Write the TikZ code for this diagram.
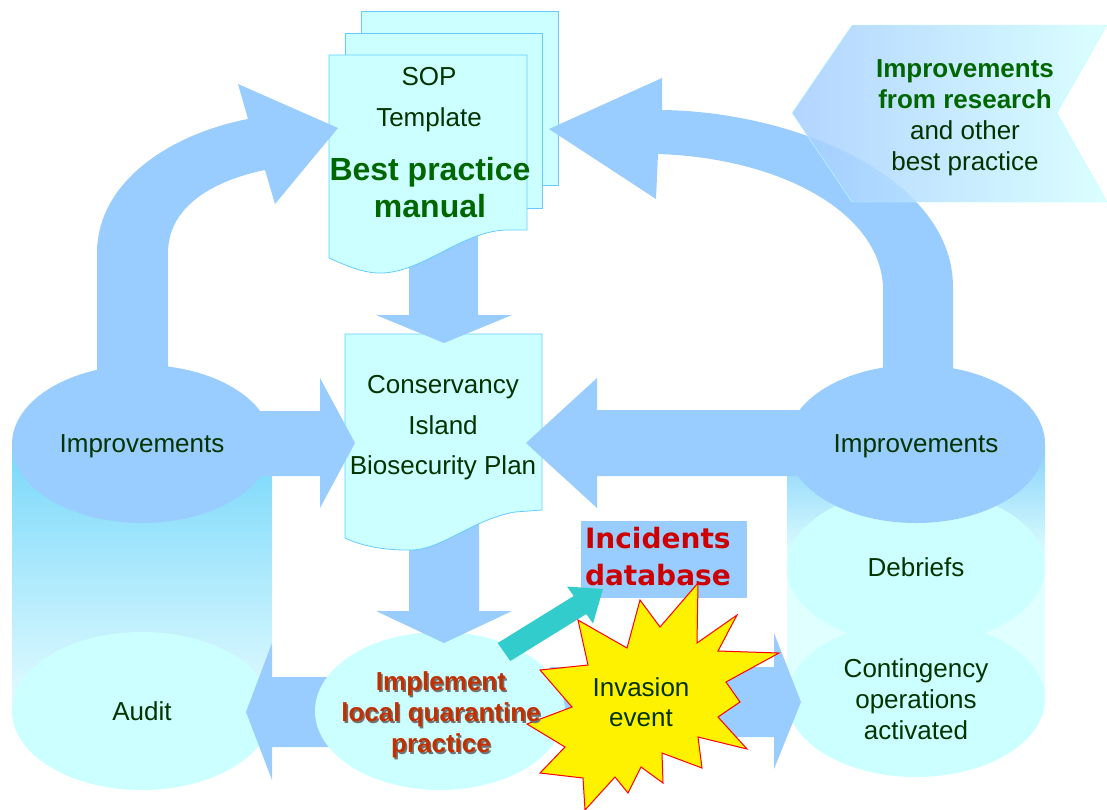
\documentclass[tikz,border=0pt]{standalone}
\usepackage{fontspec}
\setmainfont{Liberation Sans}
\newfontfamily\incfont{DejaVu Sans}
\usetikzlibrary{shapes.geometric}

\definecolor{arrowblue}{RGB}{153,204,255}
\definecolor{paleblue}{RGB}{204,255,255}
\definecolor{docline}{RGB}{102,204,255}
\definecolor{darkgreen}{RGB}{0,51,0}
\definecolor{boldgreen}{RGB}{0,102,0}
\definecolor{quarred}{RGB}{192,48,0}
\definecolor{incred}{RGB}{204,0,0}
\definecolor{tealarrow}{RGB}{51,204,204}

\tikzset{
  disc/.style={ellipse,inner sep=0pt,minimum width=260pt,minimum height=158pt},
  doc/.style={fill=paleblue,draw=docline,line width=0.8pt},
  txt/.style={text=darkgreen,align=center,inner sep=0pt,font=\fontsize{26}{31}\selectfont},
  quartxt/.style={text=quarred,align=center,inner sep=0pt,font=\bfseries\fontsize{26}{31}\selectfont},
  inctxt/.style={text=incred,align=left,inner sep=0pt,text width=158pt,font=\incfont\bfseries\fontsize{28}{37}\selectfont}
}

\begin{document}
\begin{tikzpicture}[x=1pt,y=-1pt]
    \useasboundingbox (0,0) rectangle (1107,809);
    %% left cylinder
    \shade[top color={rgb,255:red,120;green,215;blue,250},bottom color={rgb,255:red,228;green,252;blue,255}] (12,444) rectangle (272,711);
    \node[disc,fill=paleblue,txt] (audit) at (142,711) {Audit};
    \node[disc,fill=arrowblue,txt,text depth=0pt] (impleft) at (142,444) {Improvements};
    %% right cylinder
    \shade[top color={rgb,255:red,135;green,210;blue,250},bottom color={rgb,255:red,224;green,255;blue,255}] (787,445) rectangle (1045,560);
    \fill[paleblue!60!white] (787,560) rectangle (1045,700);
    \node[disc,minimum width=258pt,minimum height=156pt,fill=paleblue,txt] (conting) at (916,699) {Contingency\\operations\\activated};
    \node[disc,minimum width=258pt,minimum height=156pt,fill=paleblue,txt] (debriefs) at (916,567) {Debriefs};
    \node[disc,minimum width=258pt,fill=arrowblue,txt,text depth=0pt] (impright) at (916,444) {Improvements};
    %% arrows out of the quarantine ellipse
    \fill[arrowblue] (330,677) -- (272,677) -- (272,643) -- (246,712) -- (272,780) -- (272,747) -- (330,747) -- cycle;
    \fill[arrowblue] (550,667) -- (774,667) -- (774,633) -- (801,702) -- (774,769) -- (774,737) -- (550,737) -- cycle;
    \node[disc,minimum width=250pt,fill=paleblue] (implement) at (440,711) {};
    %% plan and manual with the arrows down
    \fill[arrowblue] (409,520) -- (479,520) -- (479,611) -- (512,611) -- (444,643) -- (376,611) -- (409,611) -- cycle;
    \draw[doc] (345,334) -- (542,334) -- (542,510) -- (515,512) .. controls (470,520) and (440,552) .. (407,550) .. controls (380,550) and (360,545) .. (345,538) -- cycle;
    \fill[arrowblue] (409,230) -- (478,230) -- (478,315) -- (512,315) -- (444,343) -- (376,315) -- (409,315) -- cycle;
    \draw[doc] (361,11) rectangle (558,185);
    \draw[doc] (345,33) rectangle (542,208);
    \draw[doc] (329,55) -- (527,55) -- (527,230) -- (505,230) .. controls (460,232) and (420,275) .. (377,273) .. controls (360,272) and (345,265) .. (329,258) -- cycle;
    %% curved arrows up to the manual
    \fill[arrowblue] (97,380) -- (97,253) .. controls (97,182) and (170,134) .. (248,119) -- (238,84) -- (338,128) -- (275,204) -- (265,170) .. controls (216,180) and (168,205) .. (168,253) -- (168,380) -- cycle;
    \fill[arrowblue] (662,110) .. controls (800,112) and (953,180) .. (953,287) -- (953,380) -- (883,380) -- (883,287) .. controls (880,212) and (780,158) .. (658,154) -- (656,199) -- (549,129) -- (662,78) -- cycle;
    %% arrows into the plan
    \fill[arrowblue] (250,411) -- (320,411) -- (320,378) -- (355,443) -- (320,508) -- (320,476) -- (250,476) -- cycle;
    \fill[arrowblue] (800,410) -- (597,410) -- (597,378) -- (526,443) -- (597,508) -- (597,476) -- (800,476) -- cycle;
    %% research chevron
    \shadedraw[left color={rgb,255:red,165;green,205;blue,255},right color={rgb,255:red,212;green,255;blue,255},fill opacity=0.85,draw={rgb,255:red,190;green,255;blue,255}] (792,113) -- (852,25) -- (1107,25) -- (1057,113) -- (1107,202) -- (852,202) -- cycle;
    \node[txt] (research) at (965,118) {{\color{boldgreen}\bfseries Improvements}\\{\color{boldgreen}\bfseries from research}\\and other\\best practice};
    %% incidents database
    \fill[arrowblue] (581,521) rectangle (747,598);
    \node[inctxt] (incidents) at (664,557) {Incidents\\database};
    \fill[tealarrow] (497.7,643) -- (573.7,596) -- (567,586.5) -- (603,589) -- (593,623.5) -- (586.3,614) -- (510.3,661) -- cycle;
    %% invasion star
    \filldraw[fill=yellow,draw=red,line width=1pt] (698,583) -- (697,643) -- (737,615) -- (718,651) -- (779,653) -- (726,682) -- (740,702) -- (718,717) -- (747,749) -- (698,737) -- (702,768) -- (662,753) -- (663,783) -- (641,767) -- (628,793) -- (615,777) -- (585,810) -- (583,778) -- (540,773) -- (565,747) -- (527,724) -- (572,707) -- (540,670) -- (588,665) -- (578,620) -- (627,648) -- (640,600) -- (660,627) -- cycle;
    \node[txt,font=\fontsize{26}{30}\selectfont] (invasion) at (641,702) {Invasion\\event};
    %% texts
    \node[quartxt,text=black!55] (implshadow) at (442.5,716.5) {Implement\\local quarantine\\practice};
    \node[quartxt] (impltext) at (441,715) {Implement\\local quarantine\\practice};
    \node[txt,font=\fontsize{26}{40.5}\selectfont] (plan) at (443,428) {Conservancy\\Island\\Biosecurity Plan};
    \node[txt,font=\fontsize{26}{41}\selectfont] (sop) at (429,100) {SOP\\Template};
    \node[txt,text=boldgreen,font=\bfseries\fontsize{32}{37}\selectfont] (manual) at (430,188) {Best practice\\manual};
\end{tikzpicture}
\end{document}
